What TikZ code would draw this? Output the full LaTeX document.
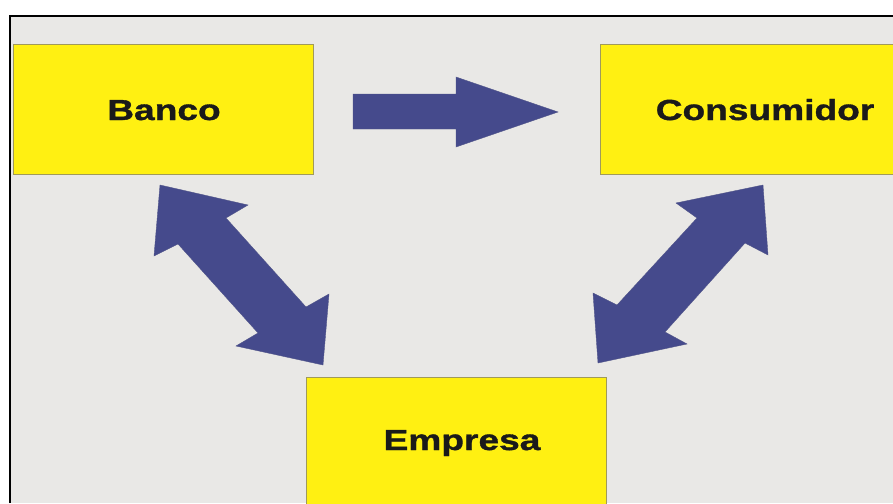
\documentclass[tikz,border=0pt]{standalone}
\usepackage{fontspec}
\newfontfamily\lblfont{Liberation Sans}[FakeStretch=1.28,FakeBold=1.2]
\definecolor{bgray}{HTML}{E9E8E6}
\definecolor{byellow}{HTML}{FFF012}
\definecolor{bedge}{HTML}{A09A5A}
\definecolor{barrow}{HTML}{454A8C}
\definecolor{btext}{HTML}{1A1A1A}
\begin{document}
\begin{tikzpicture}[x=1pt,y=-1pt,
  boxstyle/.style={draw=bedge,fill=byellow,line width=0.8pt,inner sep=0pt},
  lbl/.style={text=btext,font=\lblfont\bfseries\fontsize{29}{29}\selectfont,inner sep=0pt,anchor=base},
  arrowshape/.style={fill=barrow,draw=barrow!80!gray,line width=0.4pt,line join=miter}]
\useasboundingbox (0,0) rectangle (893,503);
\fill[white] (0,0) rectangle (893,503);
\fill[bgray] (10,16) rectangle (893,503);
\draw[black,line width=1.5pt] (10,503) -- (10,16) -- (893,16);
\begin{scope}
\clip (10,16) rectangle (893,503);
\node[boxstyle,minimum width=300pt,minimum height=130pt,anchor=north west] (banco) at (13,44) {};
\node[boxstyle,minimum width=320pt,minimum height=130pt,anchor=north west] (consumidor) at (600,44) {};
\node[boxstyle,minimum width=300pt,minimum height=140pt,anchor=north west] (empresa) at (306,377) {};
\end{scope}
\node[lbl] (tbanco) at (164,120) {Banco};
\node[lbl] (tconsumidor) at (765,120) {Consumidor};
\node[lbl] (tempresa) at (462,450) {Empresa};
% right arrow
\fill[arrowshape] (353,94) -- (456,94) -- (456,77) -- (558,112) -- (456,147) -- (456,129) -- (353,129) -- cycle;
% left double arrow
\fill[arrowshape] (160,185) -- (248,205) -- (226,218) -- (306,307) -- (329,294) -- (323,365)
  -- (236,346) -- (258,333) -- (178,244) -- (154,256) -- cycle;
% right double arrow
\fill[arrowshape] (763,185) -- (768,255) -- (745,243) -- (665,332) -- (687,344) -- (598,363)
  -- (593,293) -- (617,305) -- (697,218) -- (676,203) -- cycle;
\end{tikzpicture}
\end{document}
